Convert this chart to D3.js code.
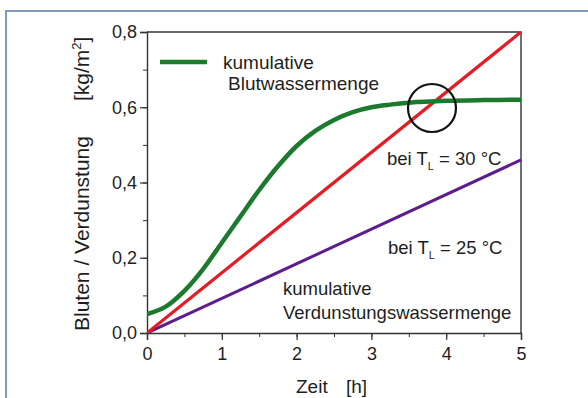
<!DOCTYPE html>
<html>
<head>
<meta charset="utf-8">
<script src="https://cdn.jsdelivr.net/npm/d3@7"></script>
<style>
  html, body { margin: 0; padding: 0; background: #fff; }
  svg { display: block; font-family: "Liberation Sans", Arial, sans-serif; }
</style>
</head>
<body>
<svg id="chart" width="588" height="398"></svg>
<script>
// Time axis (hours)
const xTicks = [0, 1, 2, 3, 4, 5];
const yTicks = [0, 0.2, 0.4, 0.6, 0.8];

// Cumulative bleeding water (green)
const bleedTime  = [0, 0.25, 0.5, 0.75, 1, 1.25, 1.5, 1.75, 2, 2.25, 2.5, 2.75, 3, 3.25, 3.5, 4, 4.5, 5];
const bleedValue = [0.05, 0.07, 0.112, 0.17, 0.24, 0.31, 0.38, 0.443, 0.497, 0.537, 0.566, 0.587, 0.600, 0.607, 0.612, 0.617, 0.619, 0.62];

// Cumulative evaporation at T_L = 30 °C (red) and 25 °C (purple)
const evapTime = [0, 5];
const evap30   = [0, 0.8];
const evap25   = [0, 0.46];

// Point where bleeding and evaporation at 30 °C meet
const crossing = { t: 3.81, v: 0.598 };

const svg = d3.select("#chart");

// Outer frame
svg.append("rect")
  .attr("x", 6).attr("y", 11)
  .attr("width", 620).attr("height", 420)
  .attr("fill", "none")
  .attr("stroke", "#7f9bb7")
  .attr("stroke-width", 2);

const mLeft = 147, mRight = 521, mTop = 32, mBottom = 333;
const x = d3.scaleLinear().domain([0, 5]).range([mLeft, mRight]);
const y = d3.scaleLinear().domain([0, 0.8]).range([mBottom, mTop]);

const fmt = d => d3.format(".1f")(d).replace(".", ",");
const ink = "#1e1e1e";

// Minor ticks
const xMinor = d3.range(0, 5.01, 0.5);
const yMinor = d3.range(0, 0.801, 0.1);

svg.append("g")
  .attr("transform", `translate(0,${mBottom})`)
  .call(d3.axisBottom(x).tickValues(xMinor).tickSize(4).tickFormat(""))
  .call(g => g.select(".domain").remove())
  .call(g => g.selectAll("line").attr("stroke", "#333"));
svg.append("g")
  .attr("transform", `translate(${mLeft},0)`)
  .call(d3.axisLeft(y).tickValues(yMinor).tickSize(4).tickFormat(""))
  .call(g => g.select(".domain").remove())
  .call(g => g.selectAll("line").attr("stroke", "#333"));

const xAxis = svg.append("g")
  .attr("transform", `translate(0,${mBottom})`)
  .call(d3.axisBottom(x).tickValues(xTicks).tickSize(7).tickPadding(7).tickFormat(d3.format("d")));
const yAxis = svg.append("g")
  .attr("transform", `translate(${mLeft},0)`)
  .call(d3.axisLeft(y).tickValues(yTicks).tickSize(7).tickPadding(3).tickFormat(fmt));

[xAxis, yAxis].forEach(g => {
  g.selectAll("text").attr("font-size", 18).attr("fill", ink)
    .attr("font-family", "Liberation Sans, Arial, sans-serif");
  g.selectAll("line").attr("stroke", "#333").attr("stroke-width", 1.2);
  g.select(".domain").attr("stroke", "#333").attr("stroke-width", 1.4);
});

// Top and right frame of the plot area
svg.append("path")
  .attr("d", `M${mLeft},${mTop}H${mRight}V${mBottom}`)
  .attr("fill", "none")
  .attr("stroke", "#333")
  .attr("stroke-width", 1.4);

// Curves
const line = d3.line().x(d => x(d[0])).y(d => y(d[1]));
svg.append("clipPath").attr("id", "plotclip")
  .append("rect").attr("x", mLeft).attr("y", mTop - 2)
  .attr("width", mRight - mLeft + 1).attr("height", mBottom - mTop + 2);

const plot = svg.append("g").attr("clip-path", "url(#plotclip)");

plot.append("path")
  .datum(evapTime.map((t, i) => [t, evap25[i]]))
  .attr("d", line).attr("fill", "none")
  .attr("stroke", "#5c1d8e").attr("stroke-width", 3);

plot.append("path")
  .datum(evapTime.map((t, i) => [t, evap30[i]]))
  .attr("d", line).attr("fill", "none")
  .attr("stroke", "#e41c26").attr("stroke-width", 3.2);

plot.append("path")
  .datum(bleedTime.map((t, i) => [t, bleedValue[i]]))
  .attr("d", d3.line().x(d => x(d[0])).y(d => y(d[1])).curve(d3.curveCatmullRom.alpha(0.5)))
  .attr("fill", "none")
  .attr("stroke", "#1b7a2d").attr("stroke-width", 4.5);

// Marker circle at the crossing
svg.append("circle")
  .attr("cx", x(crossing.t)).attr("cy", y(crossing.v))
  .attr("r", 24)
  .attr("fill", "none").attr("stroke", "#111").attr("stroke-width", 2.2);

// Legend
svg.append("line")
  .attr("x1", 160).attr("x2", 207).attr("y1", 62).attr("y2", 62)
  .attr("stroke", "#1b7a2d").attr("stroke-width", 4.5);

const txt = (tx, ty, s, size = 19) => svg.append("text")
  .attr("x", tx).attr("y", ty).attr("font-size", size).attr("fill", ink).text(s);

txt(223, 69, "kumulative");
txt(228, 90, "Blutwassermenge");

// Temperature labels with subscript
function tempLabel(tx, ty, val) {
  const t = svg.append("text").attr("x", tx).attr("y", ty).attr("font-size", 18.5).attr("fill", ink);
  t.append("tspan").text("bei T");
  t.append("tspan").attr("font-size", 11).attr("dy", 5).text("L");
  t.append("tspan").attr("dy", -5).text(` = ${val} °C`);
}
tempLabel(387, 165, 30);
tempLabel(388, 254, 25);

txt(283, 295, "kumulative", 18.5);
txt(283, 319, "Verdunstungswassermenge", 18.5);

// Axis titles
const xt = svg.append("text")
  .attr("x", 296).attr("y", 393)
  .attr("font-size", 19).attr("fill", ink);
xt.append("tspan").text("Zeit");
xt.append("tspan").attr("x", 346).text("[h]");

const yt = svg.append("text")
  .attr("transform", "translate(89,0) rotate(-90)")
  .attr("font-size", 21).attr("fill", ink);
yt.append("tspan").attr("x", -331).text("Bluten / Verdunstung");
yt.append("tspan").attr("x", -101).text("[kg/m");
yt.append("tspan").attr("font-size", 13).attr("dy", -8).text("2");
yt.append("tspan").attr("dy", 8).text("]");
</script>
</body>
</html>
